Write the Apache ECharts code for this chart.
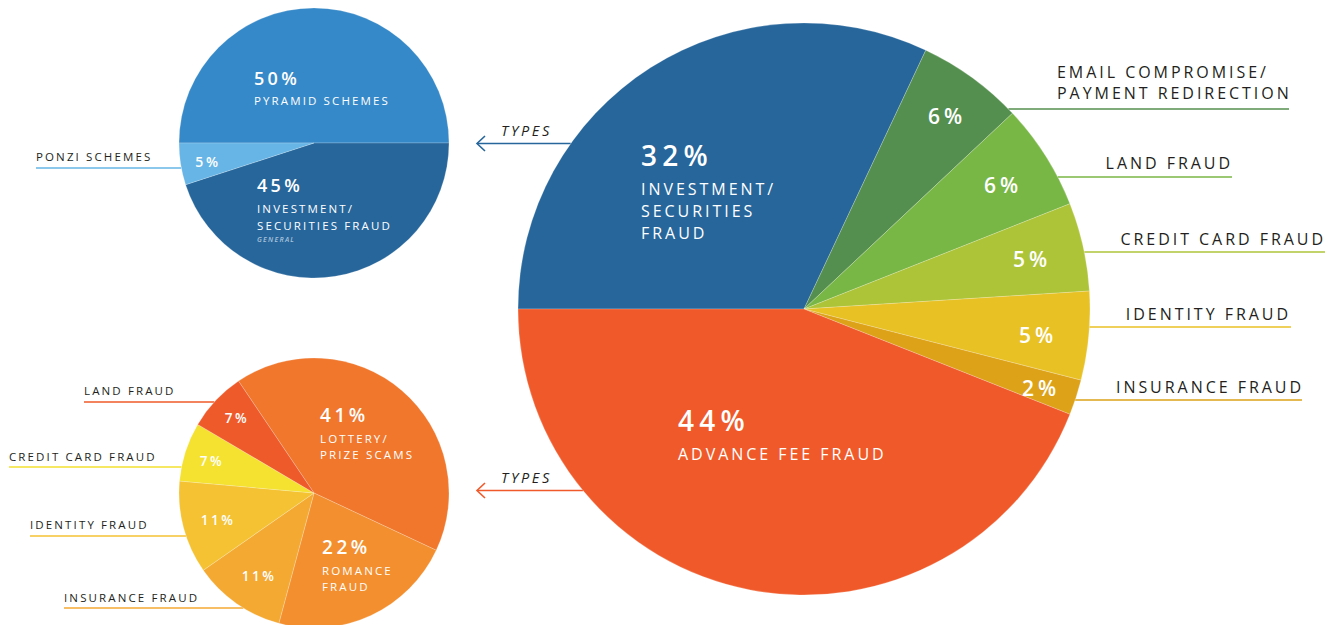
<!DOCTYPE html>
<html><head><meta charset="utf-8">
<script src="https://cdn.jsdelivr.net/npm/echarts@6/dist/echarts.min.js"></script>
<style>
html,body{margin:0;padding:0;background:#fff;}
#chart{width:1331px;height:625px;}
#chart text{letter-spacing:0.185em;}
</style></head><body><div id="chart"></div>
<script>
// ---------- DATA ----------
const mainCategories = ['INVESTMENT/\nSECURITIES\nFRAUD', 'EMAIL COMPROMISE/\nPAYMENT REDIRECTION', 'LAND FRAUD', 'CREDIT CARD FRAUD', 'IDENTITY FRAUD', 'INSURANCE FRAUD', 'ADVANCE FEE FRAUD'];
const mainValues = [32, 6, 6, 5, 5, 2, 44];

const investCategories = ['PYRAMID SCHEMES', 'INVESTMENT/\nSECURITIES FRAUD', 'PONZI SCHEMES'];
const investValues = [50, 45, 5];
const investNotes = ['', 'GENERAL', ''];

const advanceCategories = ['LOTTERY/\nPRIZE SCAMS', 'ROMANCE\nFRAUD', 'INSURANCE FRAUD', 'IDENTITY FRAUD', 'CREDIT CARD FRAUD', 'LAND FRAUD'];
const advanceValues = [41, 22, 11, 11, 7, 7];

const arrowLabel = 'TYPES';

// ---------- STYLE / LAYOUT ----------
const FONT = '"Open Sans", "Noto Sans", sans-serif';
const mainColors = ['#27669b', '#558f4f', '#78b645', '#adc438', '#e8c125', '#dda218', '#f05a2a'];
const investColors = ['#3689c8', '#27669b', '#66b5e6'];
const advanceColors = ['#f0772c', '#f38f2f', '#f4a932', '#f4c232', '#f4e130', '#ef5a2a'];

const pies = {
  main:    { c: [804, 309], r: 286, start: 180 },
  invest:  { c: [314, 143], r: 135, start: 180 },
  advance: { c: [314, 493], r: 135, start: 124 }
};

// inner label placement: [x, y, mode] mode 'big' = top-left block, 'small' = centered
const mainInner = [[641, 132, 'big'], [947, 116, 'small'], [1003, 185, 'small'], [1032, 259, 'small'], [1038, 335, 'small'], [1041, 388, 'small'], [678, 397, 'big']];
const investInner = [[254, 63, 'big'], [257, 170.5, 'big'], [208, 161, 'small']];
const advanceInner = [[320, 399, 'big'], [322, 531, 'big'], [259, 576, 'small'], [218, 520, 'small'], [212, 461, 'small'], [237, 418, 'small']];

// outer labels: index -> {tx, ty, align, ly, end}
const mainOuter = {
  1: { tx: 1057, ty: 82.5, align: 'left', ly: 109, end: 1289 },
  2: { tx: 1233, ty: 163, align: 'right', ly: 177, end: 1232 },
  3: { tx: 1326, ty: 238.5, align: 'right', ly: 252, end: 1325 },
  4: { tx: 1291, ty: 314, align: 'right', ly: 327, end: 1291 },
  5: { tx: 1304, ty: 386.5, align: 'right', ly: 400, end: 1302 }
};
const investOuter = { 2: { tx: 36, ty: 156, align: 'left', ly: 168, end: 36 } };
const advanceOuter = {
  5: { tx: 84, ty: 390, align: 'left', ly: 402, end: 84 },
  4: { tx: 9, ty: 456, align: 'left', ly: 467, end: 9 },
  3: { tx: 30, ty: 524, align: 'left', ly: 536, end: 30 },
  2: { tx: 64, ty: 597, align: 'left', ly: 608, end: 64 }
};

// ---------- BUILD ----------
function edgeX(pie, y, side) {
  const dy = y - pie.c[1];
  const dx = Math.sqrt(Math.max(0, pie.r * pie.r - dy * dy));
  return side === 'right' ? pie.c[0] + dx : pie.c[0] - dx;
}

function makeSeries(id, pie, cats, vals, colors, inner, sizes, notes) {
  return {
    type: 'pie', id: id,
    center: pie.c, radius: pie.r,
    startAngle: pie.start, clockwise: true,
    avoidLabelOverlap: false,
    animation: false,
    silent: true,
    itemStyle: { borderColor: 'rgba(255,255,255,0.35)', borderWidth: 0.6 },
    labelLine: { show: false },
    data: cats.map((n, i) => ({ name: n, value: vals[i], itemStyle: { color: colors[i] } })),
    label: {
      show: true, position: 'inside', color: '#fff', fontFamily: FONT,
      formatter: function (p) {
        if (inner[p.dataIndex][2] === 'big') {
          let s = '{p|' + p.value + '%}\n{n|' + p.name + '}';
          if (notes && notes[p.dataIndex]) s += '\n{g|' + notes[p.dataIndex] + '}';
          return s;
        }
        return '{s|' + p.value + '%}';
      },
      rich: {
        p: { fontSize: sizes.p, fontWeight: 600, color: '#fff', fontFamily: FONT, lineHeight: sizes.pl },
        n: { fontSize: sizes.n, fontWeight: 400, color: '#fff', fontFamily: FONT, lineHeight: sizes.nl },
        g: { fontSize: 7, fontStyle: 'italic', fontWeight: 600, color: '#a9c3dc', fontFamily: FONT, lineHeight: 12 },
        s: { fontSize: sizes.s, fontWeight: 600, color: '#fff', fontFamily: FONT }
      }
    },
    labelLayout: function (params) {
      const L = inner[params.dataIndex];
      if (L[2] === 'big') return { x: L[0], y: L[1], align: 'left', verticalAlign: 'top' };
      return { x: L[0], y: L[1], align: 'center', verticalAlign: 'middle' };
    }
  };
}

const series = [
  makeSeries('main', pies.main, mainCategories, mainValues, mainColors, mainInner, { p: 28, pl: 46, n: 16, nl: 22, s: 21 }),
  makeSeries('invest', pies.invest, investCategories, investValues, investColors, investInner, { p: 18, pl: 34, n: 11.5, nl: 17, s: 14 }, investNotes),
  makeSeries('advance', pies.advance, advanceCategories, advanceValues, advanceColors, advanceInner, { p: 19, pl: 31, n: 11.5, nl: 16, s: 13.5 })
];
series[1].label.rich.p.lineHeight = 29;

const graphics = [];
function addOuter(pie, cats, colors, outer, fontSize, lineH, side) {
  Object.keys(outer).forEach(k => {
    const i = +k, o = outer[k];
    const pieX = edgeX(pie, o.ly, side === 'right' ? 'right' : 'left');
    graphics.push({
      type: 'line', silent: true, z: 1,
      shape: { x1: side === 'right' ? pieX : o.end, y1: o.ly, x2: side === 'right' ? o.end : pieX, y2: o.ly },
      style: { stroke: colors[i], lineWidth: 1.6 }
    });
    graphics.push({
      type: 'text', silent: true, z: 1,
      style: {
        text: cats[i], x: o.tx, y: o.ty, textAlign: o.align, textVerticalAlign: 'middle',
        font: '400 ' + fontSize + 'px ' + FONT, fill: '#231f20', lineHeight: lineH
      }
    });
  });
}
addOuter(pies.main, mainCategories, mainColors, mainOuter, 16, 21, 'right');
addOuter(pies.invest, investCategories, investColors, investOuter, 11.5, 14, 'left');
addOuter(pies.advance, advanceCategories, advanceColors, advanceOuter, 11.5, 14, 'left');

// arrows "TYPES" pointing from main slices to the detail pies
function addArrow(y, color, textY) {
  const x2 = edgeX(pies.main, y, 'left');
  const x1 = 477;
  graphics.push({ type: 'line', silent: true, shape: { x1: x1, y1: y, x2: x2, y2: y }, style: { stroke: color, lineWidth: 1.6 } });
  graphics.push({ type: 'polyline', silent: true, shape: { points: [[x1 + 8, y - 7.5], [x1, y], [x1 + 8, y + 7.5]] }, style: { stroke: color, lineWidth: 1.6, fill: null } });
  graphics.push({ type: 'text', silent: true, style: { text: arrowLabel, x: 501, y: textY, textAlign: 'left', textVerticalAlign: 'middle', font: 'italic 400 14.5px ' + FONT, fill: '#231f20' } });
}
addArrow(143.5, mainColors[0], 130);
addArrow(490.5, mainColors[6], 477);

const chart = echarts.init(document.getElementById('chart'), null, { renderer: 'svg' });
chart.setOption({ backgroundColor: '#fff', animation: false, series: series, graphic: { elements: graphics } });
</script></body></html>
